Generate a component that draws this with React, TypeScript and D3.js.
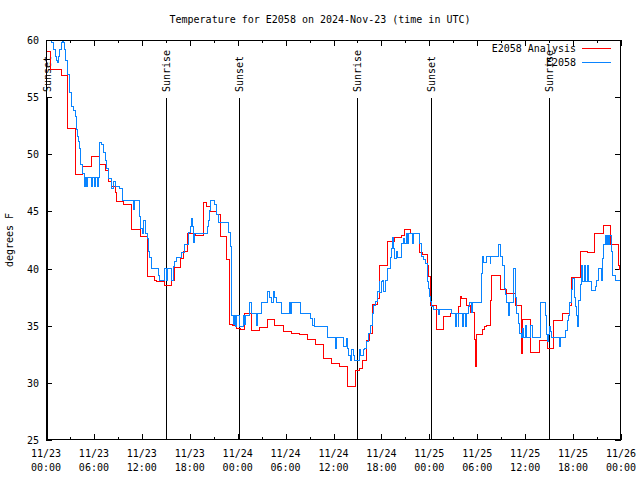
import React from "react";
import * as d3 from "d3";

const titleText = "Temperature for E2058 on 2024-Nov-23 (time in UTC)";
const yAxisLabel = "degrees F";
const yTickValues = [25, 30, 35, 40, 45, 50, 55, 60];
const xLabelHours = [0, 6, 12, 18, 24, 30, 36, 42, 48, 54, 60, 66, 72];
const xLabelDates = ["11/23", "11/23", "11/23", "11/23", "11/24", "11/24", "11/24", "11/24", "11/25", "11/25", "11/25", "11/25", "11/26"];
const xLabelTimes = ["00:00", "06:00", "12:00", "18:00", "00:00", "06:00", "12:00", "18:00", "00:00", "06:00", "12:00", "18:00", "00:00"];
const xMinorHours = d3.range(0, 73, 3);

const sunLabels = ["Sunset", "Sunrise", "Sunset", "Sunrise", "Sunset", "Sunrise"];
const sunHours = [0.1, 15.0, 24.15, 38.95, 48.2, 62.95];

const legendNames = ["E2058 Analysis", "E2058"];
const seriesColors = ["#ff0000", "#0a84ff"];

// [hours since 11/23 00:00 UTC, degrees F]
const analysisSeries: [number, number][] = [
  [0.0, 59.0], [0.6, 57.4], [1.9, 56.9], [2.7, 52.3], [3.7, 48.2], [4.6, 48.9], [5.65, 49.8],
  [6.68, 49.1], [7.4, 48.6], [7.8, 47.6], [8.14, 47.2], [8.64, 46.7], [8.85, 45.85], [9.68, 45.6],
  [10.7, 43.4], [11.86, 42.85], [12.68, 39.3], [13.6, 39.0], [13.78, 38.85], [14.9, 38.5],
  [15.74, 39.0], [16.15, 40.1], [16.78, 40.9], [17.2, 41.5], [17.74, 43.1], [18.66, 42.9],
  [19.7, 45.8], [20.04, 45.4], [20.54, 45.0], [21.38, 44.75], [21.79, 42.8], [22.63, 40.8],
  [22.95, 35.15], [23.38, 35.0], [23.88, 34.8], [24.3, 34.7], [24.8, 36.1], [25.7, 34.6],
  [26.7, 34.85], [27.76, 35.55], [28.67, 35.0], [29.72, 34.5], [30.77, 34.35], [31.71, 34.25],
  [32.71, 33.8], [33.77, 33.4], [34.72, 32.15], [35.69, 31.7], [36.69, 31.4], [37.73, 29.7],
  [38.78, 31.1], [39.23, 31.3], [39.66, 32.0], [40.16, 33.75], [40.45, 34.35], [40.84, 36.9],
  [41.53, 37.4], [41.74, 40.3], [42.74, 42.4], [43.58, 42.7], [44.54, 42.9], [44.87, 43.4],
  [45.67, 43.1], [46.71, 41.4], [47.12, 41.25], [47.75, 40.3], [47.87, 39.3], [48.17, 36.8],
  [48.84, 35.2], [48.92, 34.7], [49.75, 35.85], [50.7, 36.1], [51.63, 36.7], [51.95, 37.6],
  [52.09, 37.4], [52.68, 36.8], [53.1, 36.2], [53.65, 33.8], [53.73, 31.4], [53.85, 33.8],
  [53.95, 34.2], [54.69, 34.7], [54.89, 34.9], [55.19, 35.06], [55.68, 37.25], [55.77, 39.4],
  [56.86, 38.2], [57.68, 37.8], [58.76, 36.8], [59.5, 34.8], [59.6, 32.6], [59.7, 35.55],
  [60.68, 32.7], [61.74, 33.75], [62.84, 33.0], [63.6, 35.5], [64.65, 36.1], [65.49, 36.8],
  [65.74, 39.2], [66.88, 41.5], [67.8, 41.4], [68.74, 43.1], [69.78, 43.75], [70.7, 42.15],
  [71.65, 40.3], [71.87, 39.9], [72.0, 39.9],
];

const observedSeries: [number, number][] = [
  [0.0, 61.0], [0.66, 59.8], [0.9, 59.2], [1.2, 58.6], [1.35, 58.2], [1.5, 58.0], [1.6, 58.6],
  [1.75, 59.2], [1.9, 59.8], [2.05, 60.3], [2.15, 59.8], [2.35, 59.2], [2.45, 58.2], [2.75, 57.0],
  [2.9, 56.0], [3.0, 55.4], [3.15, 54.2], [3.4, 53.8], [3.7, 53.35], [3.85, 52.2], [3.9, 51.6],
  [4.05, 51.1], [4.15, 50.5], [4.35, 49.1], [4.6, 48.3], [4.8, 47.2], [4.92, 48.0], [5.13, 47.2],
  [5.22, 48.0], [5.72, 47.2], [5.85, 48.0], [6.13, 47.2], [6.22, 48.0], [6.42, 47.2], [6.55, 48.0],
  [6.76, 51.0], [6.97, 50.9], [7.17, 50.2], [7.39, 49.5], [7.6, 48.8], [7.8, 47.9], [8.14, 47.5],
  [8.26, 47.0], [8.39, 47.6], [8.64, 47.2], [9.2, 47.0], [9.6, 46.0], [10.93, 45.2], [11.06, 46.0],
  [11.68, 44.55], [11.86, 43.5], [12.11, 43.1], [12.27, 44.2], [12.4, 43.1], [12.68, 42.65],
  [12.81, 41.5], [13.02, 41.0], [13.15, 40.0], [14.07, 39.4], [14.19, 39.0], [14.78, 40.0],
  [15.11, 39.0], [15.19, 40.0], [15.74, 39.0], [15.94, 40.2], [16.15, 40.6], [16.28, 41.0],
  [16.99, 41.4], [17.4, 42.1], [17.82, 43.2], [18.12, 43.65], [18.25, 44.4], [18.32, 43.65],
  [18.45, 43.1], [18.53, 42.3], [18.62, 43.1], [20.2, 43.7], [20.32, 44.25], [20.45, 45.1],
  [20.62, 46.0], [21.04, 45.6], [21.29, 44.7], [21.58, 44.0], [22.83, 43.2], [23.04, 41.9],
  [23.17, 39.3], [23.25, 35.9], [23.45, 35.1], [23.58, 35.9], [23.67, 34.9], [23.88, 35.9],
  [24.2, 34.9], [24.7, 35.9], [24.9, 35.1], [25.0, 35.9], [25.46, 37.0], [25.76, 36.1],
  [26.38, 35.0], [26.46, 36.1], [27.01, 37.0], [27.76, 38.0], [27.96, 37.5], [28.26, 37.0],
  [28.46, 38.0], [28.67, 37.5], [28.89, 37.0], [29.43, 36.1], [30.47, 37.0], [30.64, 36.1],
  [30.8, 37.0], [31.81, 36.1], [33.15, 35.65], [33.43, 35.0], [33.56, 35.65], [33.68, 34.9],
  [35.22, 34.0], [36.28, 33.0], [36.4, 34.0], [37.23, 33.2], [37.65, 33.9], [37.78, 33.0],
  [37.94, 32.4], [38.07, 32.0], [38.28, 32.9], [38.45, 32.4], [38.69, 32.0], [39.23, 32.9],
  [39.44, 32.4], [39.73, 32.9], [39.94, 33.0], [40.16, 33.6], [40.36, 34.3], [40.66, 35.06],
  [40.86, 36.1], [41.07, 36.8], [41.28, 37.1], [41.48, 38.0], [41.7, 38.85], [41.82, 37.9],
  [41.95, 38.85], [42.16, 39.0], [42.32, 38.0], [42.45, 39.0], [42.74, 40.0], [43.08, 41.0],
  [43.29, 41.8], [43.42, 42.7], [43.49, 41.8], [43.7, 40.9], [43.91, 41.5], [43.99, 41.0],
  [44.46, 42.2], [44.74, 42.65], [44.95, 42.2], [45.17, 43.1], [45.29, 42.2], [45.42, 43.1],
  [45.83, 42.2], [45.96, 43.1], [46.83, 42.2], [47.05, 41.05], [47.25, 40.8], [47.58, 40.45],
  [47.75, 38.85], [47.87, 38.3], [48.0, 37.55], [48.17, 37.1], [48.3, 36.7], [48.5, 36.4],
  [49.12, 36.0], [49.33, 36.4], [50.8, 36.1], [51.22, 34.9], [51.34, 36.1], [51.63, 34.9],
  [51.71, 36.1], [52.13, 34.9], [52.22, 36.1], [52.55, 34.9], [52.63, 36.1], [52.88, 36.7],
  [53.09, 37.0], [53.22, 36.2], [53.38, 37.0], [54.48, 38.4], [54.56, 39.6], [54.69, 41.05],
  [54.76, 40.5], [55.1, 41.05], [55.6, 40.45], [55.72, 41.05], [56.72, 42.1], [56.9, 41.05],
  [57.19, 40.3], [57.35, 38.3], [57.48, 37.7], [57.6, 37.0], [57.89, 35.9], [58.02, 36.5],
  [58.1, 37.0], [58.52, 39.0], [58.6, 40.0], [58.73, 37.5], [58.94, 36.1], [59.14, 35.2],
  [59.35, 34.3], [59.56, 34.0], [59.69, 34.8], [59.82, 34.0], [59.98, 35.0], [60.11, 34.0],
  [60.69, 35.0], [60.89, 34.0], [61.86, 37.0], [62.49, 35.9], [62.7, 34.2], [62.77, 33.6],
  [62.9, 34.2], [63.02, 34.9], [63.15, 34.5], [63.32, 34.0], [64.36, 33.2], [64.48, 34.0],
  [65.1, 34.6], [65.28, 35.5], [65.4, 35.9], [65.53, 37.0], [65.75, 38.2], [65.96, 39.15],
  [66.13, 37.5], [66.25, 36.7], [66.41, 35.9], [66.54, 34.9], [66.66, 37.25], [66.87, 38.6],
  [67.08, 40.3], [67.24, 38.9], [67.41, 40.3], [67.58, 38.9], [67.75, 40.3], [67.91, 38.9],
  [68.34, 38.1], [68.75, 38.4], [68.96, 39.0], [69.15, 40.0], [69.5, 39.0], [69.71, 40.9],
  [69.87, 42.1], [70.0, 42.9], [70.21, 42.1], [70.33, 42.9], [70.46, 42.1], [70.58, 42.9],
  [70.75, 41.5], [70.96, 39.4], [71.25, 39.0], [71.97, 38.6], [72.0, 38.6],
];

const W = 640;
const H = 480;
const M = { left: 46, right: 621, top: 40, bottom: 440 };
const FONT = "'DejaVu Sans Mono', 'Liberation Mono', monospace";

export default function App() {
  const x = d3.scaleLinear().domain([0, 72]).range([M.left, M.right]);
  const y = d3.scaleLinear().domain([25, 60]).range([M.bottom, M.top]);
  const line = d3
    .line<[number, number]>()
    .x((d) => x(d[0]))
    .y((d) => y(d[1]))
    .curve(d3.curveStepAfter);
  const seriesList = [analysisSeries, observedSeries];
  const px = (v: number) => Math.round(v) + 0.5;

  return (
    <svg
      width={W}
      height={H}
      style={{ position: "absolute", left: 0, top: 0, background: "#fff" }}
      fontFamily={FONT}
      fontSize={10}
    >
      <defs>
        <clipPath id="plotClip">
          <rect x={M.left} y={M.top} width={M.right - M.left} height={M.bottom - M.top} />
        </clipPath>
      </defs>
      <rect x={0} y={0} width={W} height={H} fill="#fff" />
      <text x={320} y={23} textAnchor="middle" fill="#000">
        {titleText}
      </text>
      <text transform={`translate(13,${(M.top + M.bottom) / 2}) rotate(-90)`} textAnchor="middle" fill="#000">
        {yAxisLabel}
      </text>

      {/* y ticks */}
      {yTickValues.map((v) => (
        <g key={"y" + v}>
          <line x1={M.left} x2={M.left + 6} y1={px(y(v))} y2={px(y(v))} stroke="#000" shapeRendering="crispEdges" />
          <line x1={M.right - 6} x2={M.right} y1={px(y(v))} y2={px(y(v))} stroke="#000" shapeRendering="crispEdges" />
          <text x={39} y={y(v) + 4} textAnchor="end" fill="#000">
            {v}
          </text>
        </g>
      ))}

      {/* x ticks */}
      {xMinorHours.map((h) => {
        const len = h % 6 === 0 ? 6 : 3;
        return (
          <g key={"xt" + h}>
            <line x1={px(x(h))} x2={px(x(h))} y1={M.bottom} y2={M.bottom - len} stroke="#000" shapeRendering="crispEdges" />
            <line x1={px(x(h))} x2={px(x(h))} y1={M.top} y2={M.top + len} stroke="#000" shapeRendering="crispEdges" />
          </g>
        );
      })}
      {xLabelHours.map((h, i) => (
        <g key={"xl" + h}>
          <text x={x(h)} y={457} textAnchor="middle" fill="#000">
            {xLabelDates[i]}
          </text>
          <text x={x(h)} y={471} textAnchor="middle" fill="#000">
            {xLabelTimes[i]}
          </text>
        </g>
      ))}

      {/* sunrise / sunset markers */}
      {sunHours.map((h, i) => (
        <g key={"sun" + i}>
          <line x1={px(x(h))} x2={px(x(h))} y1={98} y2={M.bottom} stroke="#000" shapeRendering="crispEdges" />
          <text transform={`translate(${x(h) + 4},92) rotate(-90)`} textAnchor="start" fill="#000">
            {sunLabels[i]}
          </text>
        </g>
      ))}

      {/* series */}
      <g clipPath="url(#plotClip)">
        {seriesList.map((s, i) => (
          <path key={"s" + i} d={line(s) || ""} fill="none" stroke={seriesColors[i]} strokeWidth={1} shapeRendering="crispEdges" />
        ))}
      </g>

      {/* border */}
      <rect
        x={M.left + 0.5}
        y={M.top + 0.5}
        width={M.right - M.left - 1}
        height={M.bottom - M.top - 1}
        fill="none"
        stroke="#000"
        shapeRendering="crispEdges"
      />

      {/* legend */}
      {legendNames.map((n, i) => (
        <g key={"lg" + i}>
          <text x={576} y={52 + i * 14} textAnchor="end" fill="#000">
            {n}
          </text>
          <line x1={582} x2={611} y1={48.5 + i * 14} y2={48.5 + i * 14} stroke={seriesColors[i]} shapeRendering="crispEdges" />
        </g>
      ))}
    </svg>
  );
}
